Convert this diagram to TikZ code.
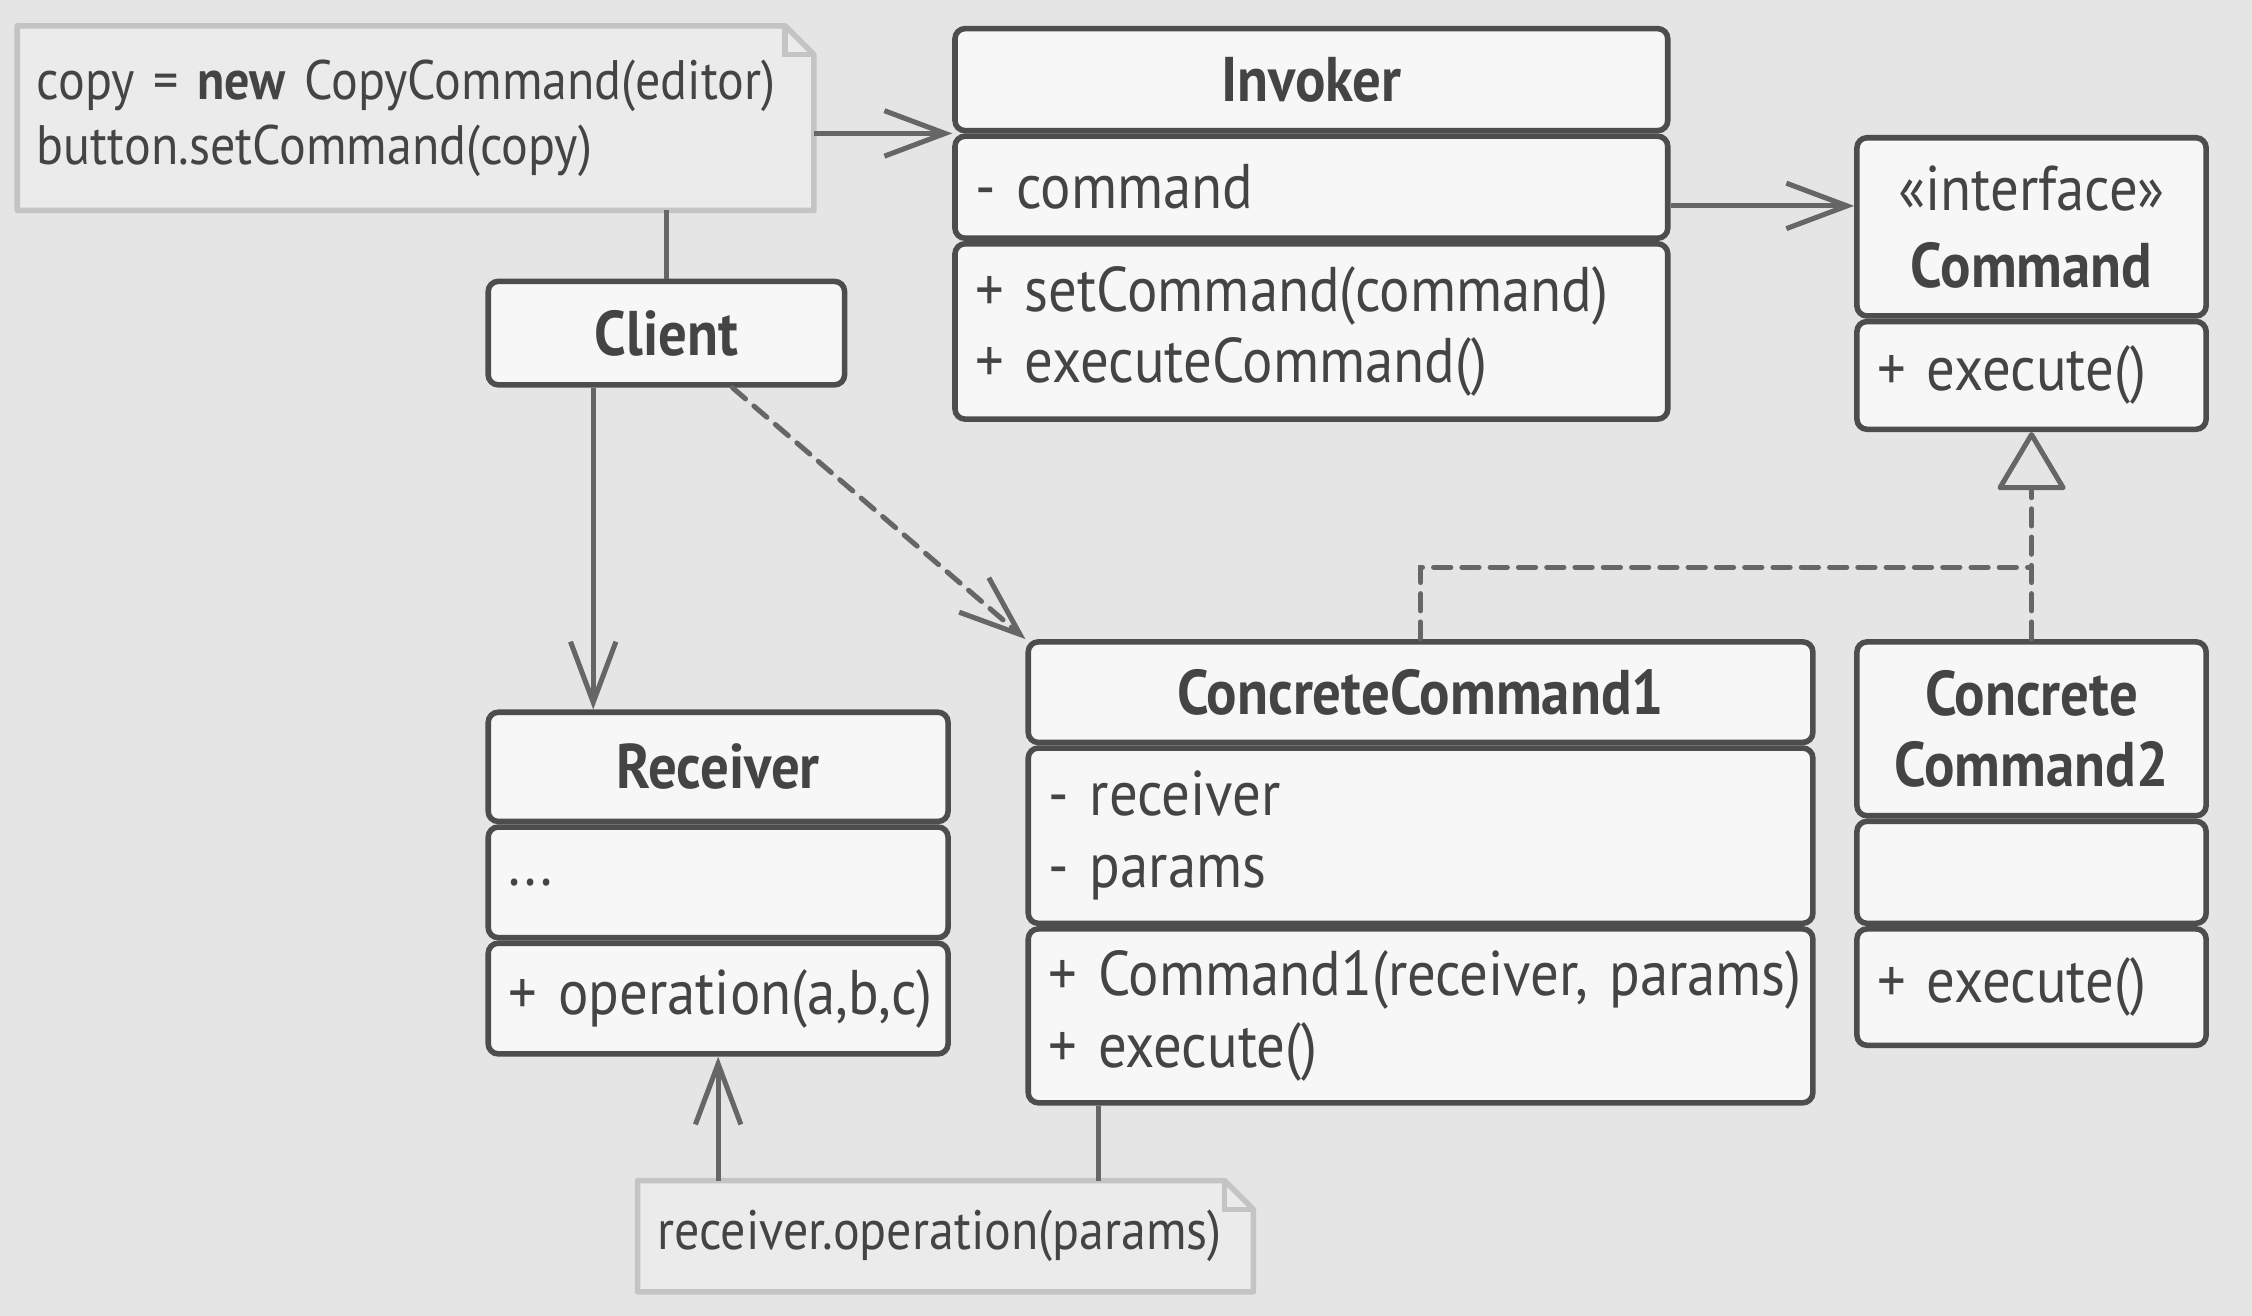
\documentclass[tikz,border=0pt]{standalone}
\usepackage{fontspec}
\setmainfont{PT Sans}[FakeStretch=0.9, WordSpace=0.75]
\usetikzlibrary{arrows.meta}
\definecolor{bgc}{HTML}{E5E5E5}
\definecolor{boxc}{HTML}{F7F7F7}
\definecolor{linec}{HTML}{4D4D4D}
\definecolor{arrc}{HTML}{666666}
\definecolor{notef}{HTML}{EBEBEB}
\definecolor{notel}{HTML}{C4C4C4}
\definecolor{txtc}{HTML}{444444}
\hyphenpenalty=10000
\begin{document}
\begin{tikzpicture}[x=0.01cm, y=-0.01cm, font=\fontsize{12.5}{14.2}\selectfont, text=txtc,
    box/.style={draw=linec, fill=boxc, line width=1.1pt, rounded corners=2pt, anchor=north west, inner xsep=0.14cm, inner ysep=0pt},
    title/.style={box, text width=#1, align=center, font=\fontsize{12.5}{14.2}\selectfont\bfseries},
    field/.style={box, text width=#1, align=left},
    note/.style={anchor=north west, fill=notef, inner xsep=0.13cm, inner ysep=0pt, align=left, font=\fontsize{11}{12.8}\selectfont},
    plain/.style={draw=arrc, line width=1pt},
    arr/.style={plain, -{Straight Barb[length=12pt, width=9pt]}},
    dashline/.style={line cap=round, dash pattern=on 3.4pt off 2.2pt},
    real/.style={plain, dashline, -{Triangle[open, length=12pt, width=14pt, round]}}]
  \fill[bgc] (0,0) rectangle (1568,916);
  \useasboundingbox (0,0) rectangle (1568,916);

  % notes
  \node[note, minimum height=1.27cm, text width=5.27cm] (cnote) at (12,18) {copy~=~\textbf{new}~CopyCommand(editor)\\button.setCommand(copy)};
  \node[note, minimum height=0.76cm, text width=4.01cm] (rnote) at (444,822) {receiver.operation(params)};
  \foreach \n in {cnote, rnote} {
    \fill[bgc] ([xshift=-0.2cm]\n.north east) -- (\n.north east) -- ([yshift=-0.2cm]\n.north east) -- cycle;
    \draw[notel, line width=1.1pt, line join=round] (\n.north west) -- ([xshift=-0.2cm]\n.north east) -- ([yshift=-0.2cm]\n.north east) -- (\n.south east) -- (\n.south west) -- cycle;
    \draw[notel, line width=1.1pt] ([xshift=-0.2cm]\n.north east) |- ([yshift=-0.2cm]\n.north east);
  }

  % Invoker
  \node[title=4.68cm, minimum height=0.71cm] (inv1) at (663,18) {Invoker};
  \node[field=4.68cm, minimum height=0.71cm] (inv2) at (inv1.south west) {-~command};
  \node[field=4.68cm, minimum height=1.22cm] (inv3) at (inv2.south west) {+~setCommand(command)\\+~executeCommand()};

  % Command
  \node[title=2.15cm, minimum height=1.24cm] (cmd1) at (1291,94) {\textmd{«interface»}\\[1pt]Command};
  \node[field=2.15cm, minimum height=0.75cm] (cmd2) at (cmd1.south west) {+~execute()};

  % Client
  \node[title=2.20cm, minimum height=0.72cm] (cl) at (338,194) {Client};

  % Receiver
  \node[title=2.92cm, minimum height=0.76cm] (rec1) at (338,494) {Receiver};
  \node[field=2.92cm, minimum height=0.77cm] (rec2) at (rec1.south west) {...};
  \node[field=2.92cm, minimum height=0.77cm] (rec3) at (rec2.south west) {+~operation(a,b,c)};

  % ConcreteCommand1
  \node[title=5.18cm, minimum height=0.70cm] (cc1) at (714,445) {ConcreteCommand1};
  \node[field=5.18cm, minimum height=1.22cm] (cc2) at (cc1.south west) {-~receiver\\-~params};
  \node[field=5.18cm, minimum height=1.21cm] (cc3) at (cc2.south west) {+~Command1(receiver,~params)\\+~execute()};

  % ConcreteCommand2
  \node[title=2.15cm, minimum height=1.21cm] (cc4) at (1291,445) {Concrete\\Command2};
  \node[field=2.15cm, minimum height=0.71cm] (cc5) at (cc4.south west) {};
  \node[field=2.15cm, minimum height=0.81cm] (cc6) at (cc5.south west) {+~execute()};

  % connectors
  \draw[arr] (cnote.east |- inv1.south) -- (inv1.south west);
  \coordinate (ic) at ([yshift=-0.13cm]inv2.east);
  \draw[arr] (ic) -- (ic -| cmd1.west);
  \draw[plain] (cl.north) -- (cl.north |- cnote.south);
  \coordinate (cr) at ([xshift=0.75cm]cl.south west);
  \draw[arr] (cr) -- (cr |- rec1.north);
  \draw[arr, dashline] ([xshift=-0.8cm]cl.south east) -- (cc1.north west);
  \draw[arr] (rec3.south |- rnote.north) -- (rec3.south);
  \coordinate (cn) at ([xshift=0.51cm]cc3.south west);
  \draw[plain] (cn) -- (cn |- rnote.north);
  \draw[real] (cc4.north) -- (cmd2.south);
  \coordinate (jn) at (cmd2.south |- 0,395);
  \draw[plain, dashline] (cc1.north) |- (jn);
\end{tikzpicture}
\end{document}
